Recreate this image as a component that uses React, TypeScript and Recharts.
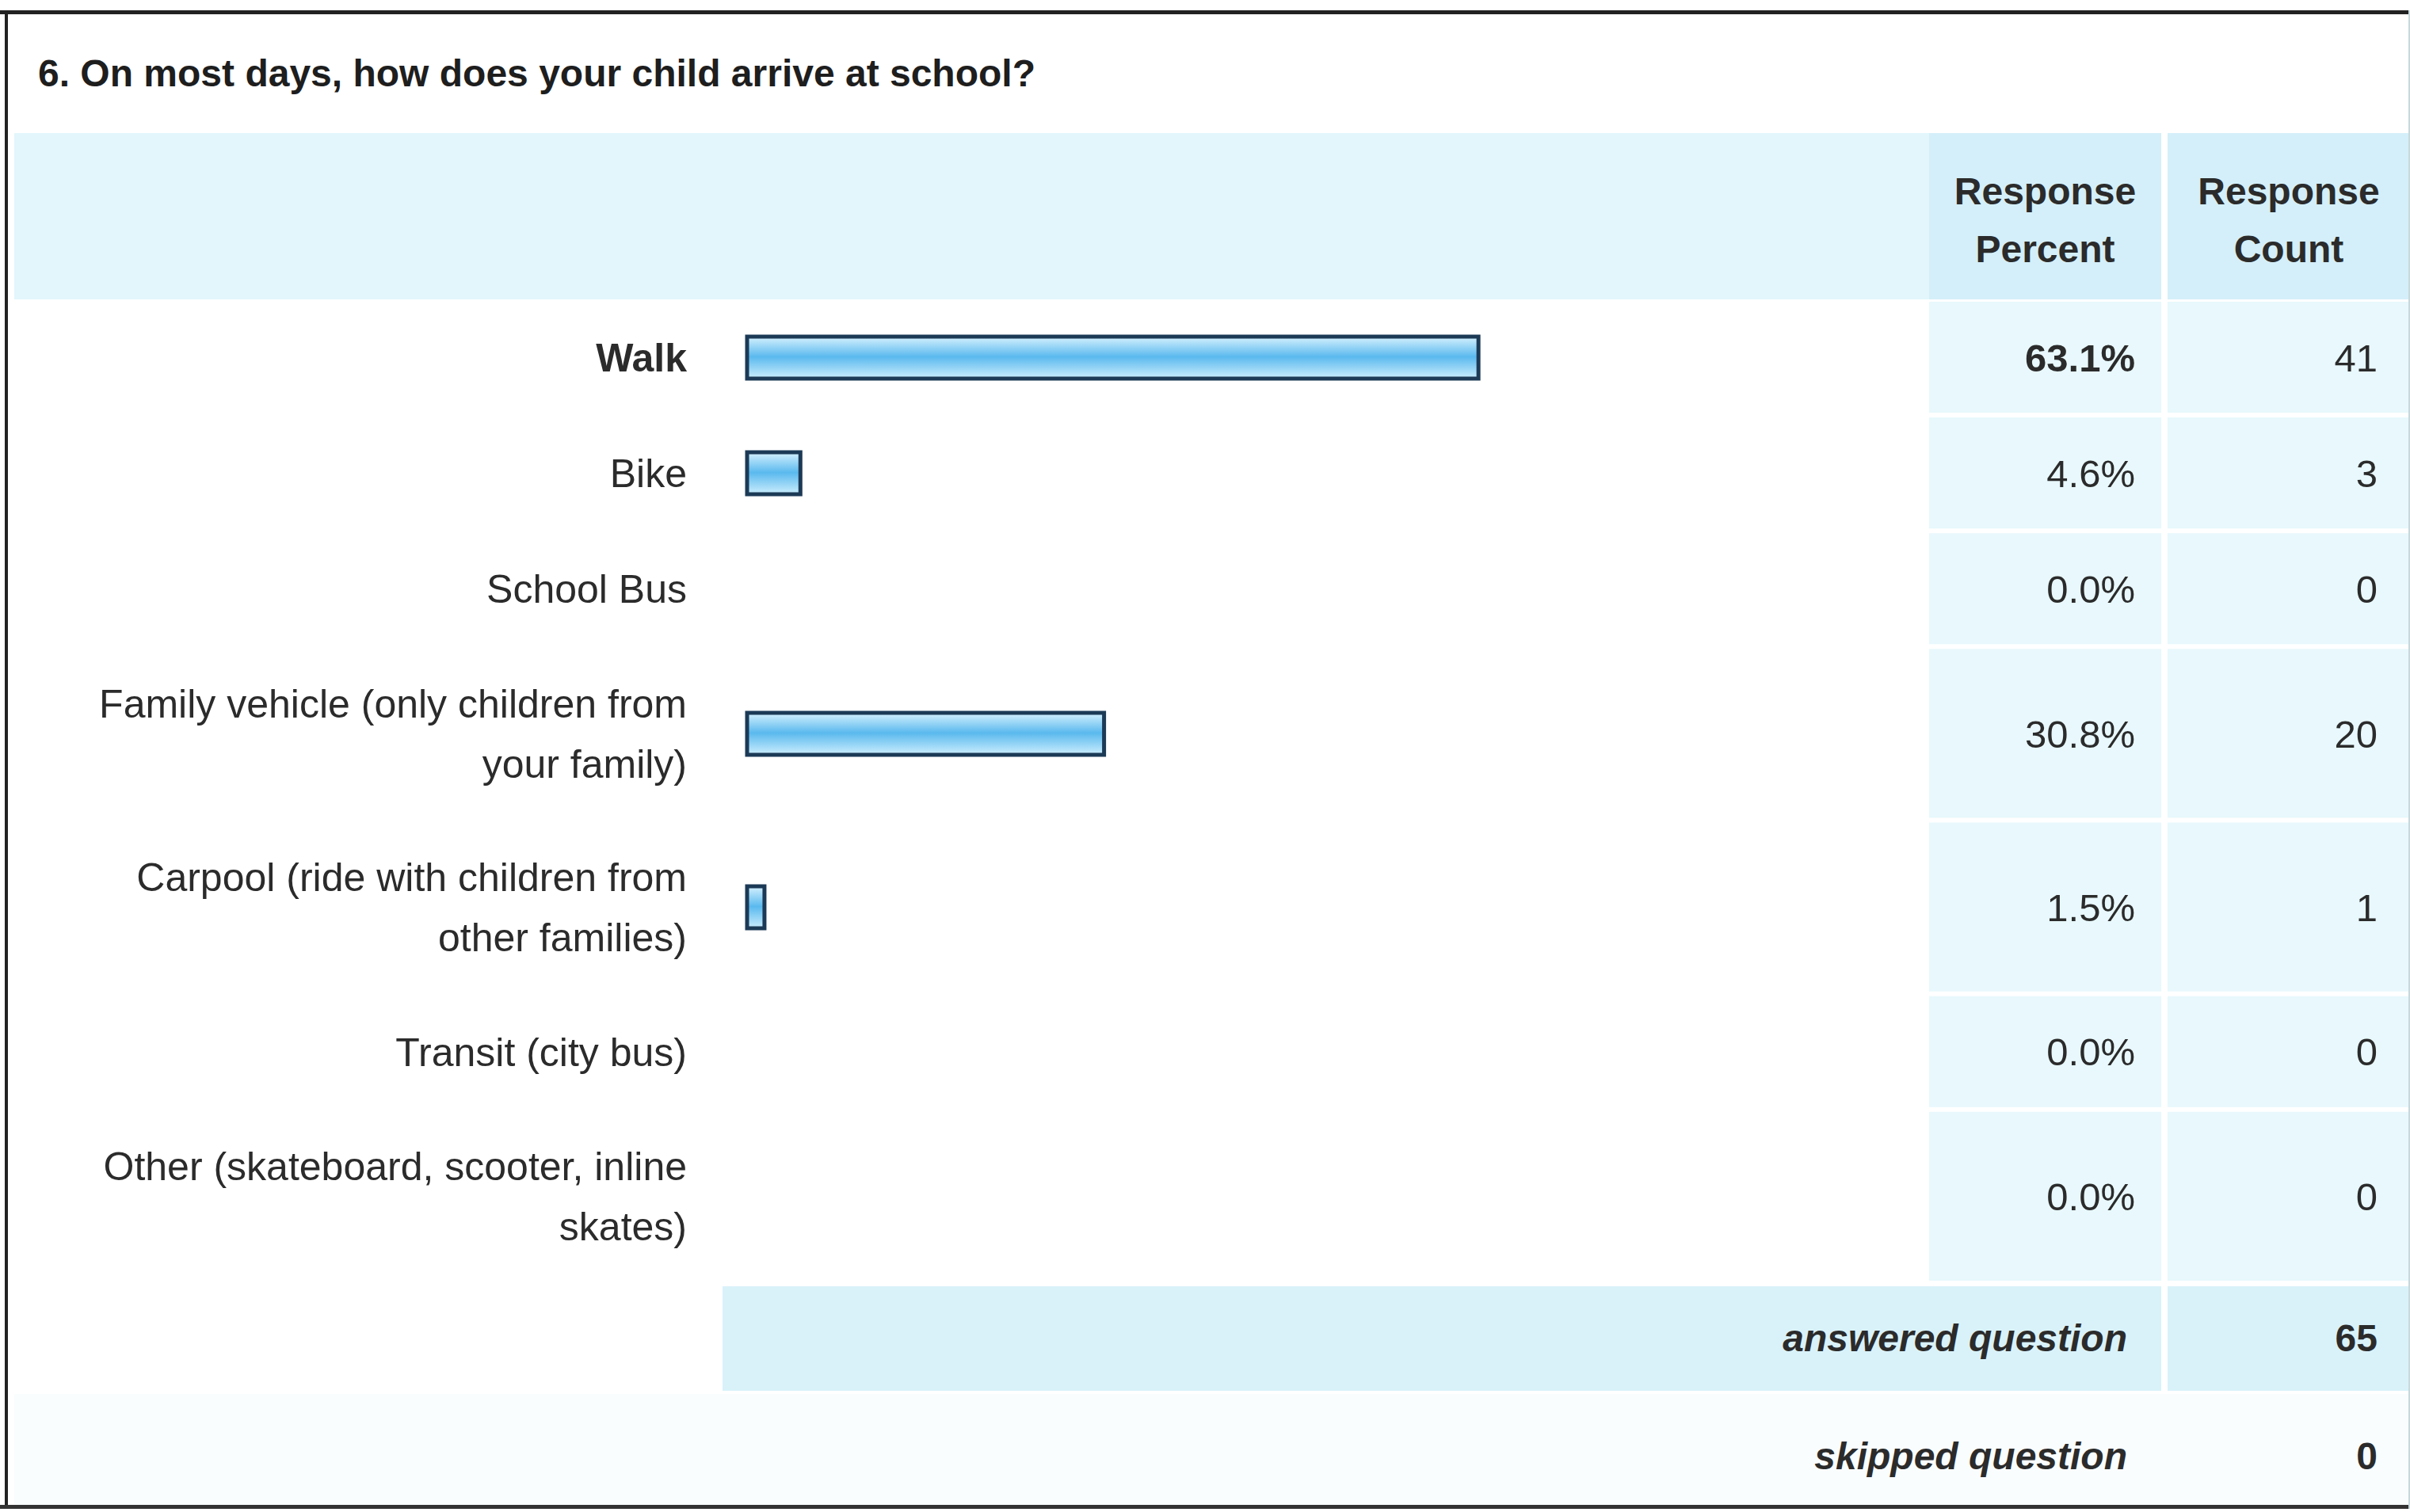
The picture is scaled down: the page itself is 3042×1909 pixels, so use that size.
import React from "react";
import { Bar, BarChart, XAxis, YAxis } from "recharts";

// answer labels (line breaks as in the printed table)
const labels = [
  "Walk",
  "Bike",
  "School Bus",
  "Family vehicle (only children from\nyour family)",
  "Carpool (ride with children from\nother families)",
  "Transit (city bus)",
  "Other (skateboard, scooter, inline\nskates)",
];
const percents = [63.1, 4.6, 0.0, 30.8, 1.5, 0.0, 0.0];
const counts = [41, 3, 0, 20, 1, 0, 0];
const answered = 65;
const skipped = 0;

const title = "6. On most days, how does your child arrive at school?";

const FONT = "'Liberation Sans', Arial, sans-serif";
const W = 3042;
const H = 1909;
const ROWS_TOP = 378;
const ROWS_H = 1242;
const PLOT_L = 943;
const PLOT_R = 2406;

// each row takes (lines + 1) half-line units, like the html table did
const units = labels.map((l) => l.split("\n").length + 1);
const totalUnits = units.reduce((a, b) => a + b, 0);
const unitPx = ROWS_H / totalUnits;
const maxPct = Math.max(...percents);

const data = labels.map((label, i) => {
  const before = units.slice(0, i).reduce((a, b) => a + b, 0);
  return {
    label,
    pos: before + units[i] / 2,
    units: units[i],
    percent: percents[i],
    count: counts[i],
  };
});

function RowTick(props: any) {
  const { y, payload } = props;
  const row = data.find((d) => d.pos === payload.value);
  if (!row) return null;
  const lines = row.label.split("\n");
  const rowH = row.units * unitPx;
  const bold = row.percent === maxPct;
  const lh = 76;
  return (
    <g>
      <rect x={2435} y={y - rowH / 2 + 3} width={293} height={rowH - 6} fill="#e8f8fc" />
      <rect x={2736} y={y - rowH / 2 + 3} width={306} height={rowH - 6} fill="#e8f8fc" />
      <text
        textAnchor="end"
        fontFamily={FONT}
        fontSize={50}
        fill="#2b2b2b"
        fontWeight={bold ? 700 : 400}
      >
        {lines.map((t, k) => (
          <tspan key={k} x={867} y={y + (k - (lines.length - 1) / 2) * lh} dy="0.36em">
            {t}
          </tspan>
        ))}
      </text>
      <text
        x={2695}
        y={y}
        dy="0.36em"
        textAnchor="end"
        fontFamily={FONT}
        fontSize={49}
        fill="#2b2b2b"
        fontWeight={bold ? 700 : 400}
      >
        {row.percent.toFixed(1) + "%"}
      </text>
      <text
        x={3001}
        y={y}
        dy="0.36em"
        textAnchor="end"
        fontFamily={FONT}
        fontSize={49}
        fill="#2b2b2b"
      >
        {row.count}
      </text>
    </g>
  );
}

const abs = (l: number, t: number, w: number, h: number, bg?: string): React.CSSProperties => ({
  position: "absolute",
  left: l,
  top: t,
  width: w,
  height: h,
  background: bg,
});

export default function App() {
  return (
    <div style={{ ...abs(0, 0, W, H, "#ffffff"), fontFamily: FONT, color: "#2b2b2b", overflow: "hidden" }}>
      {/* header band */}
      <div style={abs(18, 168, 2417, 210, "#e2f6fc")} />
      <div style={abs(2435, 168, 293, 210, "#d4eff9")} />
      <div style={abs(2736, 168, 306, 210, "#d4eff9")} />
      {/* footer bands */}
      <div style={abs(912, 1624, 1816, 132, "#d9f2fa")} />
      <div style={abs(2736, 1624, 306, 132, "#d9f2fa")} />
      <div style={abs(18, 1760, 3024, 140, "#f9fdfe")} />

      <div
        style={{
          ...abs(48, 63, 2000, 60),
          fontSize: 48,
          fontWeight: 700,
          lineHeight: "60px",
          color: "#1e1e1e",
        }}
      >
        {title}
      </div>

      {[
        { x: 2435, w: 293, t: "Response\nPercent" },
        { x: 2736, w: 306, t: "Response\nCount" },
      ].map((h) => (
        <div
          key={h.x}
          style={{
            ...abs(h.x, 205, h.w, 150),
            fontSize: 48,
            fontWeight: 700,
            lineHeight: "73px",
            textAlign: "center",
            whiteSpace: "pre",
            color: "#2b2b2b",
          }}
        >
          {h.t}
        </div>
      ))}

      <div style={abs(0, ROWS_TOP, W, ROWS_H)}>
        <BarChart
          width={W}
          height={ROWS_H}
          data={data}
          layout="vertical"
          margin={{ top: 0, right: W - PLOT_R, bottom: 0, left: 0 }}
        >
          <defs>
            <linearGradient id="barFill" x1="0" y1="0" x2="0" y2="1">
              <stop offset="0%" stopColor="#d6f1fe" />
              <stop offset="48%" stopColor="#5ab9ee" />
              <stop offset="100%" stopColor="#cdeefd" />
            </linearGradient>
          </defs>
          <XAxis type="number" domain={[0, 100]} hide />
          <YAxis
            type="number"
            dataKey="pos"
            domain={[0, totalUnits]}
            ticks={data.map((d) => d.pos)}
            interval={0}
            width={PLOT_L}
            axisLine={false}
            tickLine={false}
            tick={<RowTick />}
          />
          <Bar
            dataKey="percent"
            barSize={53}
            fill="url(#barFill)"
            stroke="#1c3a56"
            strokeWidth={5}
            isAnimationActive={false}
          />
        </BarChart>
      </div>

      <div
        style={{
          ...abs(912, 1660, 1773, 60),
          fontSize: 48,
          fontWeight: 700,
          fontStyle: "italic",
          lineHeight: "60px",
          textAlign: "right",
        }}
      >
        answered question
      </div>
      <div style={{ ...abs(2736, 1660, 265, 60), fontSize: 48, fontWeight: 700, lineHeight: "60px", textAlign: "right" }}>
        {answered}
      </div>
      <div
        style={{
          ...abs(912, 1809, 1773, 60),
          fontSize: 48,
          fontWeight: 700,
          fontStyle: "italic",
          lineHeight: "60px",
          textAlign: "right",
        }}
      >
        skipped question
      </div>
      <div style={{ ...abs(2736, 1809, 265, 60), fontSize: 48, fontWeight: 700, lineHeight: "60px", textAlign: "right" }}>
        {skipped}
      </div>

      {/* scanned frame */}
      <div style={abs(0, 13, W, 5, "#222")} />
      <div style={abs(6, 13, 4, 1892, "#222")} />
      <div style={abs(0, 1900, W, 5, "#333")} />
      <div style={abs(W - 2, 13, 2, 1892, "#c8d8dc")} />
    </div>
  );
}
